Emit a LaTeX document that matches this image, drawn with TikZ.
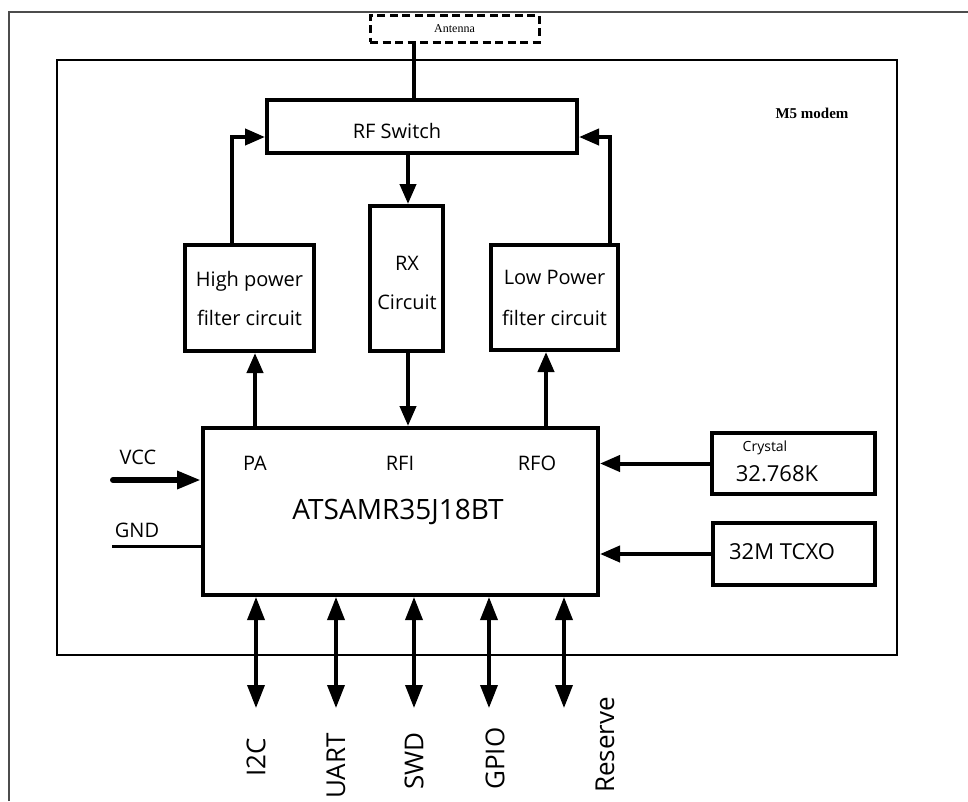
\documentclass[tikz,border=0pt]{standalone}
\usepackage{fontspec}
\setmainfont{Open Sans}
\newfontfamily\serifft{Liberation Serif}
\usetikzlibrary{arrows.meta}
\begin{document}
\begin{tikzpicture}[x=1pt,y=-1pt,
  box/.style={draw,line width=4pt,rectangle,inner sep=0pt},
  conn/.style={line width=4pt,-{Triangle[length=20pt,width=16pt]}},
  bidir/.style={line width=3.5pt,{Triangle[length=23pt,width=17pt]}-{Triangle[length=23pt,width=17pt]}},
  lbl/.style={inner sep=0pt,font=\fontsize{20}{24}\selectfont},
  blbl/.style={inner sep=0pt,font=\fontsize{26}{30}\selectfont,rotate=90,anchor=west}]
\useasboundingbox (0,0) rectangle (968,801);
\fill[white] (0,0) rectangle (968,801);
% outer frame
\draw[line width=1.5pt,black!70] (9,801) -- (9,12) -- (968,12);
% M5 modem frame
\node[draw,line width=2pt,minimum width=840pt,minimum height=595pt,inner sep=0pt] (m5) at (477,357.5) {};
\node[inner sep=0pt,font=\serifft\bfseries\fontsize{15}{18}\selectfont] (m5t) at (812,113) {M5 modem};
% antenna
\node[draw,line width=3pt,dash pattern=on 8pt off 4.5pt,minimum width=169pt,minimum height=27pt,inner sep=0pt,font=\serifft\fontsize{12}{14}\selectfont] (ant) at (454.5,28.5) {Antenna};
% blocks
\node[box,minimum width=310pt,minimum height=53pt] (rfs) at (422,126.5) {};
\node[lbl] (rfst) at (397,131) {RF Switch};
\node[box,minimum width=129pt,minimum height=106pt,align=center,font=\fontsize{20}{39}\selectfont] (hp) at (249.5,298) {High power\\filter circuit};
\node[box,minimum width=73pt,minimum height=145pt] (rx) at (406.5,278.5) {};
\node[lbl,align=center,font=\fontsize{20}{39}\selectfont] (rxt) at (407,282.5) {RX\\Circuit};
\node[box,minimum width=127pt,minimum height=105pt,align=center,font=\fontsize{20}{41}\selectfont] (lp) at (554.5,297.5) {Low Power\\filter circuit};
\node[box,minimum width=395pt,minimum height=167pt] (chip) at (400.5,511.5) {};
\node[lbl] (pa) at (255,463) {PA};
\node[lbl] (rfi) at (400,463) {RFI};
\node[lbl] (rfo) at (537,463) {RFO};
\node[inner sep=0pt,font=\fontsize{28}{32}\selectfont] (chipt) at (398,512) {ATSAMR35J18BT};
\node[box,minimum width=163pt,minimum height=61pt] (xtal) at (793.5,463.5) {};
\node[inner sep=0pt,font=\fontsize{14}{16}\selectfont] (xtalt1) at (765,448) {Crystal};
\node[inner sep=0pt,font=\fontsize{22}{26}\selectfont] (xtalt2) at (777,474) {32.768K};
\node[box,minimum width=162pt,minimum height=62pt] (tcxo) at (794,554) {};
\node[inner sep=0pt,font=\fontsize{22}{26}\selectfont] (tcxot) at (782,552) {32M TCXO};
% coordinates
\coordinate (xant) at (414,0);
\coordinate (xhp) at (232,0);
\coordinate (xlp) at (610,0);
\coordinate (xrx) at (408,0);
\coordinate (xpa) at (255,0);
\coordinate (xrfo) at (546,0);
\coordinate (yA) at (0,137);
% connectors
\draw[line width=4pt] (ant.south -| xant) -- (rfs.north -| xant);
\draw[conn] (hp.north -| xhp) |- (rfs.west |- yA);
\draw[conn] (lp.north -| xlp) |- (rfs.east |- yA);
\draw[conn] (rfs.south -| xrx) -- (rx.north -| xrx);
\draw[conn] (chip.north -| xpa) -- (hp.south -| xpa);
\draw[conn] (rx.south -| xrx) -- (chip.north -| xrx);
\draw[conn] (chip.north -| xrfo) -- (lp.south -| xrfo);
\draw[conn] (xtal.west) -- (chip.east |- xtal.west);
\draw[conn] (tcxo.west) -- (chip.east |- tcxo.west);
% power
\coordinate (vccS) at (113,480);
\coordinate (gndS) at (112,546);
\draw[line width=6pt,line cap=round,-{Triangle[length=24pt,width=17pt]}] (vccS) -- (chip.west |- vccS);
\draw[line width=3pt] (gndS) -- (chip.west |- gndS);
\node[lbl] (vcct) at (138,457) {VCC};
\node[lbl] (gndt) at (137,530) {GND};
% bottom interfaces
\coordinate (b1) at (256,708);
\coordinate (b2) at (336,708);
\coordinate (b3) at (414,708);
\coordinate (b4) at (489,708);
\coordinate (b5) at (564,708);
\draw[bidir] (chip.south -| b1) -- (b1);
\draw[bidir] (chip.south -| b2) -- (b2);
\draw[bidir] (chip.south -| b3) -- (b3);
\draw[bidir] (chip.south -| b4) -- (b4);
\draw[bidir] (chip.south -| b5) -- (b5);
\node[blbl] (l1) at (256,777) {I2C};
\node[blbl] (l2) at (336,799) {UART};
\node[blbl] (l3) at (414,790) {SWD};
\node[blbl] (l4) at (495,790) {GPIO};
\node[blbl] (l5) at (605,793) {Reserve};
\end{tikzpicture}
\end{document}
